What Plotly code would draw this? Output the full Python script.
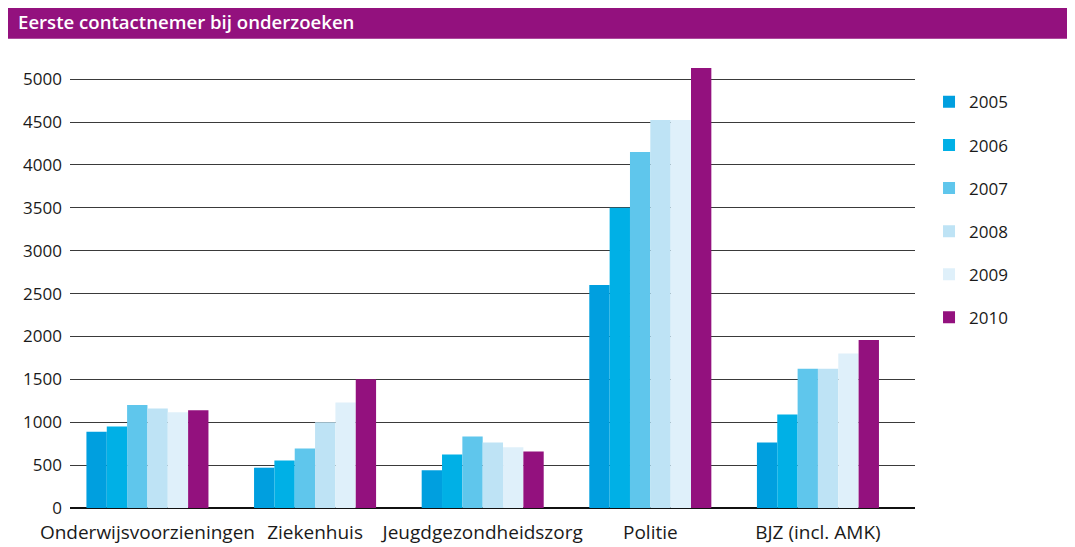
import plotly.graph_objects as go

categories = ["Onderwijsvoorzieningen", "Ziekenhuis", "Jeugdgezondheidszorg", "Politie", "BJZ (incl. AMK)"]
years = ["2005", "2006", "2007", "2008", "2009", "2010"]

v2005 = [890, 470, 440, 2600, 765]
v2006 = [950, 555, 625, 3500, 1090]
v2007 = [1200, 695, 835, 4150, 1625]
v2008 = [1160, 1000, 765, 4525, 1625]
v2009 = [1115, 1230, 707, 4525, 1800]
v2010 = [1140, 1500, 660, 5130, 1960]

colors = ["#009FDF", "#00B0E6", "#5FC6EC", "#BEE3F5", "#DFF0FA", "#93117E"]

font_family = "Open Sans"

fig = go.Figure()
for year, vals, col in zip(years, [v2005, v2006, v2007, v2008, v2009, v2010], colors):
    fig.add_trace(go.Bar(
        x=categories, y=vals, name=year, legendgroup=year,
        marker=dict(color=col, line=dict(width=0)),
    ))

# the page has an 8px body margin, so the figure is sized to the rest of the window
fig.update_layout(
    width=1067, height=539,
    barmode="group", bargap=0.272, bargroupgap=0,
    plot_bgcolor="white", paper_bgcolor="white",
    margin=dict(l=62, r=160, t=54, b=39, pad=0),
    font=dict(family=font_family, size=17, color="#1a1a1a"),
    showlegend=True,
    legend=dict(
        x=1.0166, xanchor="left", y=0.95, yanchor="top",
        tracegroupgap=18, font=dict(size=17, color="#1a1a1a"),
        bgcolor="rgba(0,0,0,0)",
    ),
    shapes=[dict(
        type="rect", xref="paper", yref="paper",
        x0=-0.08, x1=1.188, y0=1.0523, y1=1.15,
        fillcolor="#93117E", line=dict(width=0), layer="below",
    )],
    annotations=[dict(
        text="Eerste contactnemer bij onderzoeken",
        xref="paper", yref="paper", x=-0.0639, y=1.0897,
        xanchor="left", yanchor="middle", showarrow=False,
        font=dict(family=font_family, size=18.6, color="white", weight=600),
    )],
)

fig.update_xaxes(
    range=[-0.462, 4.579], showgrid=False, showline=False, automargin=False,
    ticks="", ticklabelstandoff=11, tickfont=dict(size=19),
)
fig.update_yaxes(
    range=[0, 5200], tickvals=list(range(0, 5001, 500)),
    showgrid=True, gridcolor="#3a3a3a", gridwidth=1.3,
    zeroline=True, zerolinecolor="#111111", zerolinewidth=1.5,
    showline=False, ticks="", ticklabelstandoff=7, tickfont=dict(size=17),
)

fig.write_html("out.html")
